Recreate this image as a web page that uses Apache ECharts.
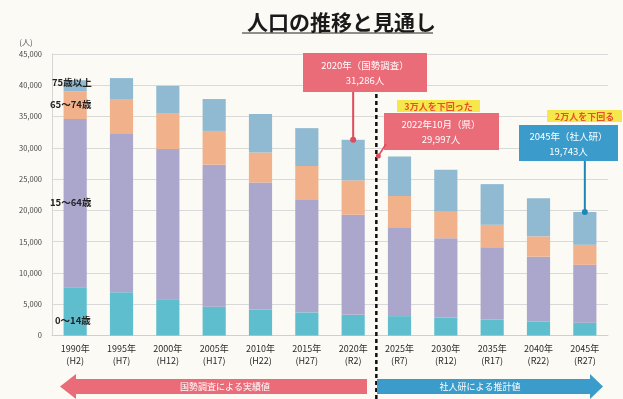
<!DOCTYPE html>
<html><head><meta charset="utf-8">
<script src="https://cdn.jsdelivr.net/npm/echarts@6/dist/echarts.min.js"></script>
<style>html,body{margin:0;padding:0;background:#fbfaf5;} #c{width:623px;height:399px;}</style>
</head><body><div id="c"></div>
<script>
const years = ['1990年','1995年','2000年','2005年','2010年','2015年','2020年','2025年','2030年','2035年','2040年','2045年'];
const eras = ['(H2)','(H7)','(H12)','(H17)','(H22)','(H27)','(R2)','(R7)','(R12)','(R17)','(R22)','(R27)'];
const age0_14  = [7700, 6900, 5800, 4600, 4100, 3700, 3300, 3100, 2900, 2500, 2200, 2050];
const age15_64 = [26900, 25450, 24000, 22700, 20350, 18100, 16000, 14200, 12650, 11600, 10400, 9250];
const age65_74 = [4400, 5450, 5750, 5400, 4800, 5300, 5500, 5000, 4250, 3600, 3250, 3200];
const age75    = [1800, 3350, 4350, 5100, 6150, 6050, 6486, 6300, 6700, 6500, 6100, 5243];
const seriesNames = ['0～14歳','15～64歳','65～74歳','75歳以上'];
const yMax = 45000, yStep = 5000;

const FONT = '"Noto Sans CJK JP", "Noto Sans", sans-serif';
const cats = years.map((y,i)=> y + '\n' + eras[i]);
const totals = years.map((_,i)=> age0_14[i]+age15_64[i]+age65_74[i]+age75[i]);

const chart = echarts.init(document.getElementById('c'), null, {renderer:'canvas'});
const colors = ['#5fbecd','#aba6cb','#f1b18b','#90b9d2'];
const mk = (name, data, c) => ({
  name, type:'bar', stack:'pop', data, barWidth:'50%',
  itemStyle:{color:c}, emphasis:{disabled:true}
});
const option = {
  backgroundColor:'#fbfaf5',
  animation:false,
  textStyle:{fontFamily:FONT},
  title:{text:'人口の推移と見通し', left:242, top:7,
    textStyle:{fontSize:21, fontWeight:'bold', color:'#1a1a1a', fontFamily:FONT}},
  grid:{left:52, right:15, top:54, bottom:63.5},
  xAxis:{type:'category', data:cats,
    axisLine:{lineStyle:{color:'#cfcfcf'}}, axisTick:{show:false},
    axisLabel:{color:'#2a2a2a', fontSize:9, lineHeight:12, margin:7, interval:0, fontFamily:FONT}},
  yAxis:{type:'value', min:0, max:yMax, interval:yStep,
    axisLine:{show:true, lineStyle:{color:'#d6d6d6'}},
    splitLine:{lineStyle:{color:'#d9d9d9', width:1}},
    axisLabel:{color:'#444', fontSize:7.5, margin:10,
      formatter:v=> v===0 ? '0' : v.toLocaleString('en-US'), fontFamily:FONT}},
  series:[mk(seriesNames[0],age0_14,colors[0]), mk(seriesNames[1],age15_64,colors[1]),
          mk(seriesNames[2],age65_74,colors[2]), mk(seriesNames[3],age75,colors[3])]
};
chart.setOption(option);

const p20 = chart.convertToPixel({gridIndex:0},[6, totals[6]]);
const p45 = chart.convertToPixel({gridIndex:0},[11, totals[11]]);
const xa = chart.convertToPixel({xAxisIndex:0}, cats[6]);
const xb = chart.convertToPixel({xAxisIndex:0}, cats[7]);
const divX = (xa+xb)/2;
const Z = 100;
const white = {fill:'#fff', fontSize:9.5, fontFamily:FONT, align:'center', verticalAlign:'middle', lineHeight:15};
const lbl = (t,x,y)=>({type:'text', z:Z, style:{text:t, x, y, fill:'#222', fontSize:9.5, fontWeight:'bold', fontFamily:FONT, verticalAlign:'middle'}});
const graphics = [
  {type:'line', z:Z, shape:{x1:242,y1:33,x2:433,y2:33}, style:{stroke:'#222', lineWidth:1.2}},
  {type:'text', z:Z, style:{text:'(人)', x:26, y:42, fill:'#555', fontSize:8, fontFamily:FONT, align:'center', verticalAlign:'middle'}},
  lbl(seriesNames[3], 52, 82), lbl(seriesNames[2], 50, 104), lbl(seriesNames[1], 50, 202), lbl(seriesNames[0], 55, 320),
  // divider
  {type:'line', z:Z, shape:{x1:divX,y1:94,x2:divX,y2:399}, style:{stroke:'#111', lineWidth:2.5, lineDash:[4,3]}},
  // 2020 box
  {type:'rect', z:Z, shape:{x:303,y:53,width:124,height:39}, style:{fill:'#ea6c79'}},
  {type:'text', z:Z+1, style:Object.assign({text:'2020年（国勢調査）\n31,286人', x:365, y:72.5}, white)},
  {type:'line', z:Z, shape:{x1:p20[0],y1:92,x2:p20[0],y2:p20[1]}, style:{stroke:'#e04a5c', lineWidth:2}},
  {type:'circle', z:Z, shape:{cx:p20[0],cy:p20[1],r:3}, style:{fill:'#e04a5c'}},
  // 2022 box
  {type:'rect', z:Z, shape:{x:397,y:100,width:83,height:12}, style:{fill:'#f6e84c'}},
  {type:'text', z:Z+1, style:{text:'3万人を下回った', x:438.5, y:106.5, fill:'#e8502a', fontSize:9, fontWeight:'bold', fontFamily:FONT, align:'center', verticalAlign:'middle'}},
  {type:'rect', z:Z, shape:{x:384,y:113,width:115,height:37}, style:{fill:'#ea6c79'}},
  {type:'text', z:Z+1, style:Object.assign({text:'2022年10月（県）\n29,997人', x:441, y:132}, white)},
  {type:'line', z:Z, shape:{x1:386,y1:144,x2:divX+2,y2:156}, style:{stroke:'#e04a5c', lineWidth:1.5}},
  {type:'circle', z:Z, shape:{cx:divX+2,cy:156,r:2.5}, style:{fill:'#e04a5c'}},
  // 2045 box
  {type:'rect', z:Z, shape:{x:547,y:110,width:75,height:12}, style:{fill:'#f6e84c'}},
  {type:'text', z:Z+1, style:{text:'2万人を下回る', x:584.5, y:116.5, fill:'#e8502a', fontSize:9, fontWeight:'bold', fontFamily:FONT, align:'center', verticalAlign:'middle'}},
  {type:'rect', z:Z, shape:{x:519,y:125,width:99,height:36}, style:{fill:'#3b9ccb'}},
  {type:'text', z:Z+1, style:Object.assign({text:'2045年（社人研）\n19,743人', x:568.5, y:143.5}, white)},
  {type:'line', z:Z, shape:{x1:p45[0],y1:161,x2:p45[0],y2:p45[1]}, style:{stroke:'#1f86b8', lineWidth:2}},
  {type:'circle', z:Z, shape:{cx:p45[0],cy:p45[1],r:3}, style:{fill:'#1f86b8'}},
  // bottom arrows
  {type:'polygon', z:Z, shape:{points:[[60,386.5],[76,374],[76,379],[367,379],[367,394],[76,394],[76,399]]}, style:{fill:'#ea6c79'}},
  {type:'text', z:Z+1, style:{text:'国勢調査による実績値', x:225, y:387, fill:'#fff', fontSize:9, fontFamily:FONT, align:'center', verticalAlign:'middle'}},
  {type:'polygon', z:Z, shape:{points:[[377,379],[590,379],[590,374],[603,386.5],[590,399],[590,394],[377,394]]}, style:{fill:'#3b9ccb'}},
  {type:'text', z:Z+1, style:{text:'社人研による推計値', x:480, y:387, fill:'#fff', fontSize:9, fontFamily:FONT, align:'center', verticalAlign:'middle'}}
];
chart.setOption({graphic:graphics});
</script></body></html>
